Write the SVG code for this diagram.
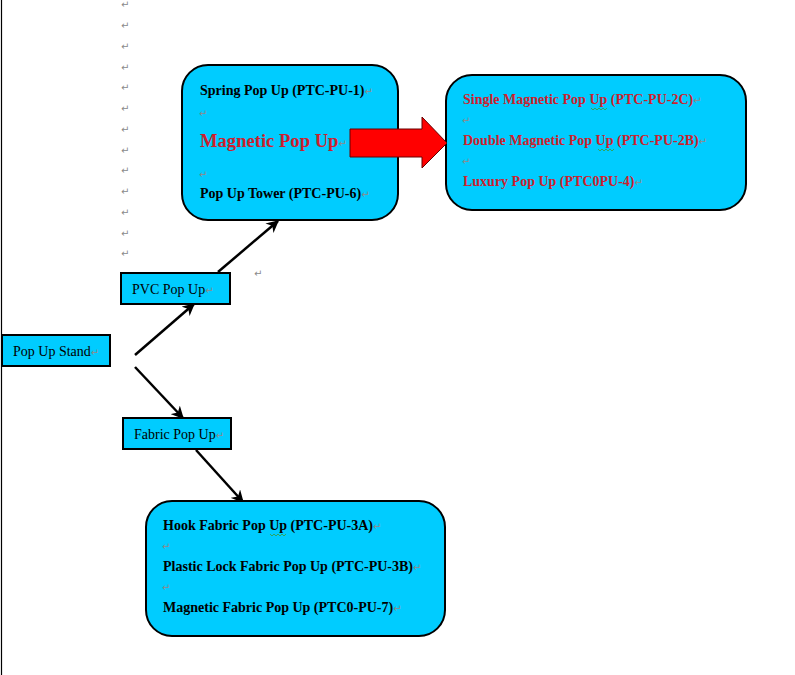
<svg xmlns="http://www.w3.org/2000/svg" width="795" height="675" viewBox="0 0 795 675">
<defs>
<marker id="ah" viewBox="0 0 10 10" refX="9" refY="5" markerWidth="5" markerHeight="5" orient="auto" markerUnits="strokeWidth">
<path d="M0,0 L10,5 L0,10 L3,5 z" fill="#000"/>
</marker>
<style>
.box{fill:#00ccff;stroke:#000;stroke-width:2}
.t{font-family:"Liberation Serif","Times New Roman",serif;font-size:14px;fill:#000}
.b{font-weight:bold}
.r{fill:#cc1f2e}
.rm{font-family:"DejaVu Sans",sans-serif;font-size:10px;font-weight:normal;fill:#8a8a8a}
.con{stroke:#000;stroke-width:2.5;fill:none;marker-end:url(#ah)}
.sq{stroke:#3a9a3a;stroke-width:0.8;fill:none}
</style>
</defs>
<rect width="795" height="675" fill="#fff"/>
<line x1="1.5" y1="0" x2="1.5" y2="675" stroke="#000" stroke-width="1.2"/>
<g id="marks">
<text class="rm" x="121" y="8">↵</text>
<text class="rm" x="121" y="29">↵</text>
<text class="rm" x="121" y="50">↵</text>
<text class="rm" x="121" y="71">↵</text>
<text class="rm" x="121" y="91">↵</text>
<text class="rm" x="121" y="112">↵</text>
<text class="rm" x="121" y="133">↵</text>
<text class="rm" x="121" y="154">↵</text>
<text class="rm" x="121" y="174">↵</text>
<text class="rm" x="121" y="195">↵</text>
<text class="rm" x="121" y="216">↵</text>
<text class="rm" x="121" y="237">↵</text>
<text class="rm" x="121" y="257">↵</text>
<text class="rm" x="254" y="277">↵</text>
</g>
<g id="connectors">
<line class="con" x1="135" y1="355" x2="194" y2="304"/>
<line class="con" x1="135" y1="367" x2="183" y2="418"/>
<line class="con" x1="218" y1="272" x2="278" y2="221"/>
<line class="con" x1="196" y1="450" x2="243" y2="502"/>
</g>
<g id="pvc-types">
<rect class="box" x="182" y="65" width="216" height="155" rx="26"/>
<text class="t b" x="200" y="95">Spring Pop Up (PTC-PU-1)<tspan class="rm">↵</tspan></text>
<text class="rm" x="199" y="117">↵</text>
<text class="t b r" x="200" y="147" style="font-size:18.6px">Magnetic Pop Up<tspan class="rm">↵</tspan></text>
<text class="rm" x="199" y="178">↵</text>
<text class="t b" x="200" y="198">Pop Up Tower (PTC-PU-6)<tspan class="rm">↵</tspan></text>
</g>
<g id="magnetic-types">
<rect class="box" x="446" y="75" width="300" height="135" rx="26"/>
<text class="t b r" x="463" y="104">Single Magnetic Pop Up (PTC-PU-2C)<tspan class="rm">↵</tspan></text>
<text class="rm" x="462" y="124">↵</text>
<text class="t b r" x="463" y="145">Double Magnetic Pop Up (PTC-PU-2B)<tspan class="rm">↵</tspan></text>
<text class="rm" x="462" y="165">↵</text>
<text class="t b r" x="463" y="186">Luxury Pop Up (PTC0PU-4)<tspan class="rm">↵</tspan></text>
<path class="sq" d="M591,108 l2,2 l2,-2 l2,2 l2,-2 l2,2 l2,-2 l2,2 l2,-2"/>
<path class="sq" d="M598,149 l2,2 l2,-2 l2,2 l2,-2 l2,2 l2,-2 l2,2 l2,-2"/>
</g>
<g id="big-arrow">
<path d="M350,129 L422,129 L422,117 L447,143 L422,168 L422,157 L350,157 Z" fill="#ff0000" stroke="#600" stroke-width="1"/>
</g>
<g id="pvc">
<rect class="box" x="121" y="273" width="109" height="31"/>
<text class="t" x="132" y="294">PVC Pop Up<tspan class="rm">↵</tspan></text>
</g>
<g id="stand">
<rect class="box" x="2" y="335" width="108" height="31"/>
<text class="t" x="13" y="356">Pop Up Stand<tspan class="rm">↵</tspan></text>
</g>
<g id="fabric">
<rect class="box" x="123" y="418" width="108" height="31"/>
<text class="t" x="134" y="439">Fabric Pop Up<tspan class="rm">↵</tspan></text>
</g>
<g id="fabric-types">
<rect class="box" x="146" y="501" width="299" height="135" rx="26"/>
<text class="t b" x="163" y="530">Hook Fabric Pop Up (PTC-PU-3A)<tspan class="rm">↵</tspan></text>
<text class="rm" x="162" y="550">↵</text>
<text class="t b" x="163" y="571">Plastic Lock Fabric Pop Up (PTC-PU-3B)<tspan class="rm">↵</tspan></text>
<text class="rm" x="162" y="591">↵</text>
<text class="t b" x="163" y="612">Magnetic Fabric Pop Up (PTC0-PU-7)<tspan class="rm">↵</tspan></text>
<path class="sq" d="M270,534 l2,2 l2,-2 l2,2 l2,-2 l2,2 l2,-2 l2,2 l2,-2"/>
</g>
</svg>
